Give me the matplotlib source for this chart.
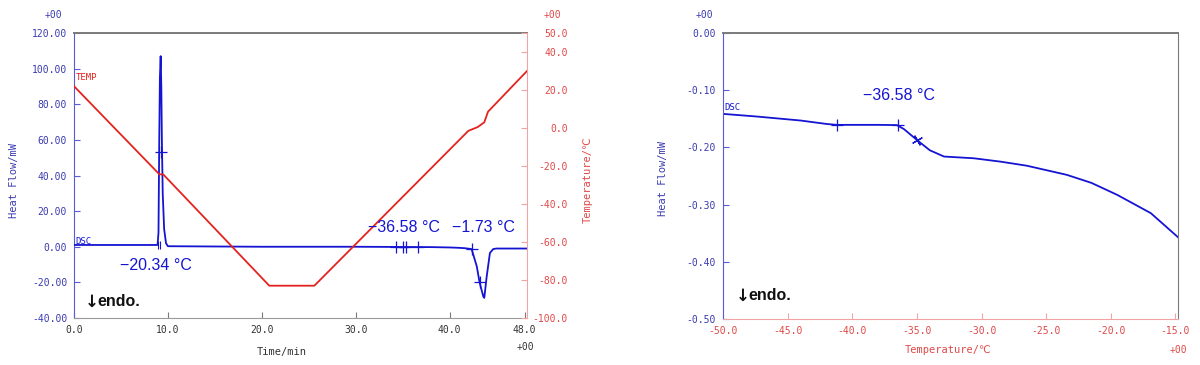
import matplotlib
matplotlib.use('Agg')
import matplotlib.pyplot as plt

# ---------------- data ----------------
# Left panel: DSC heat flow vs time
time_dsc = [0, 8.9, 9.0, 9.08, 9.15, 9.23, 9.3, 9.36, 9.45, 9.6, 9.8, 10.0, 20, 30, 38, 40, 41,
            41.6, 42.35, 42.9, 43.2, 43.6, 43.7, 43.95, 44.3, 44.65, 45, 48.25]
heat_dsc = [1.0, 1.0, 8, 60, 95, 107, 90, 60, 30, 10, 2, 0.3, 0.0, 0.0, -0.2, -0.4, -0.6,
            -0.8, -1.3, -11, -20, -28, -28.7, -17, -3.5, -1.3, -1.0, -1.0]
# Left panel: programme temperature vs time
time_temp = [0, 9.1, 9.5, 20.8, 25.6, 42.0, 43.0, 43.7, 44.1, 48.25]
temp_prog = [22, -24.4, -24.4, -83, -83, -1.5, 0.5, 3, 8.6, 30]
# analysis marks on left panel
mark_t = [9.25, 34.3, 35.0, 35.4, 36.6, 42.35, 43.2]
mark_h = [53, 0.0, 0.0, 0.0, 0.0, -1.3, -20]
dbl_t = [8.98, 9.12]
dbl_h = [0.8, 0.8]

# Right panel: DSC heat flow vs temperature (zoom on glass transition)
temp_r = [-50, -47.4, -44, -42, -41.2, -38, -36.55, -36.0, -35.0, -34.0, -32.9, -30.6,
          -28.5, -26.5, -23.4, -21.5, -19.5, -16.9, -14.8]
heat_r = [-0.1414, -0.146, -0.153, -0.159, -0.1606, -0.1606, -0.1610, -0.168, -0.187, -0.205,
          -0.216, -0.219, -0.225, -0.232, -0.248, -0.262, -0.283, -0.315, -0.357]
mark_rt = [-41.2, -36.5]
mark_rh = [-0.1606, -0.1606]
mark_rt2 = [-35.0]
mark_rh2 = [-0.187]

# ticks
x1_ticks = [0, 10, 20, 30, 40, 48]
y1_ticks = [120, 100, 80, 60, 40, 20, 0, -20, -40]
y2_ticks = [50, 40, 20, 0, -20, -40, -60, -80, -100]
x3_ticks = [-50, -45, -40, -35, -30, -25, -20, -15]
y3_ticks = [0.0, -0.1, -0.2, -0.3, -0.4, -0.5]
x1_labels = [f'{v:.1f}' for v in x1_ticks]
y1_labels = [f'{v:.2f}' for v in y1_ticks]
y2_labels = [f'{v:.1f}' for v in y2_ticks]
x3_labels = [f'{v:.1f}' for v in x3_ticks]
y3_labels = [f'{abs(v):.2f}' if v == 0 else f'{v:.2f}' for v in y3_ticks]

# ---------------- style ----------------
plt.rcParams['font.family'] = ['DejaVu Sans Mono', 'DejaVu Sans', 'Noto Sans CJK JP']
W, H = 1200, 365
fig = plt.figure(figsize=(12, 3.65), dpi=100)


def fx(x):
    return x / W


def fy(y):
    return 1 - y / H


BLUE = '#1414d2'
RED = '#e3231f'
TBLUE = '#3b3bb0'
TRED = '#e04848'
SPBLUE = '#5a5ad8'
SPRED = '#f2a4a4'
GRAY = '#7a7a7a'
TS = 7
ANN = ['Liberation Sans', 'DejaVu Sans']

# ---------------- left panel ----------------
ax1 = fig.add_axes([fx(74), fy(318), fx(527) - fx(74), fy(33) - fy(318)])
ax1.plot(time_dsc, heat_dsc, color=BLUE, lw=1.3, zorder=3)
ax1.plot(mark_t, mark_h, ls='none', marker='+', ms=9, mew=0.9, color=BLUE, zorder=4)
ax1.plot(dbl_t, dbl_h, ls='none', marker='|', ms=6, mew=0.8, color=BLUE, zorder=4)
ax1.set_xlim(0, 48.25)
ax1.set_ylim(-40, 120)
ax1.set_xticks(x1_ticks, labels=x1_labels)
ax1.set_yticks(y1_ticks, labels=y1_labels)
ax1.tick_params(axis='y', direction='in', length=4, color=SPBLUE, labelcolor=TBLUE,
                labelsize=TS, pad=5)
ax1.tick_params(axis='x', direction='in', length=4, color=GRAY, labelcolor='#333333',
                labelsize=TS, pad=5)
ax1.spines['left'].set_color(SPBLUE)
ax1.spines['bottom'].set_color('#9a9a9a')
ax1.spines['top'].set_color(GRAY)
ax1.spines['top'].set_linewidth(1.4)
ax1.spines['right'].set_visible(False)

ax2 = ax1.twinx()
ax2.plot(time_temp, temp_prog, color=RED, lw=1.3, zorder=2)
ax2.set_ylim(-100, 50)
ax2.set_yticks(y2_ticks, labels=y2_labels)
ax2.tick_params(axis='y', direction='in', length=4, color=SPRED, labelcolor=TRED,
                labelsize=TS, pad=29.5)
for lb in ax2.get_yticklabels():
    lb.set_horizontalalignment('right')
for s in ['left', 'top', 'bottom']:
    ax2.spines[s].set_visible(False)
ax2.spines['right'].set_color(SPRED)

fig.text(fx(14), fy(180), 'Heat Flow/mW', rotation=90, color=TBLUE, fontsize=7.5,
         ha='center', va='center')
fig.text(fx(588), fy(180), 'Temperature/℃', rotation=90, color=TRED, fontsize=7.5,
         ha='center', va='center')
fig.text(fx(282), fy(352), 'Time/min', color='#333333', fontsize=7.5, ha='center', va='center')
fig.text(fx(53), fy(15), '+00', color=TBLUE, fontsize=TS, ha='center', va='center')
fig.text(fx(552), fy(15), '+00', color=TRED, fontsize=TS, ha='center', va='center')
fig.text(fx(525), fy(347), '+00', color='#333333', fontsize=TS, ha='center', va='center')
fig.text(fx(76), fy(78), 'TEMP', color=RED, fontsize=6.5, ha='left', va='center')
fig.text(fx(75), fy(241), 'DSC', color=BLUE, fontsize=6.5, ha='left', va='center')

fig.text(fx(120), fy(265), '−20.34 °C', color=BLUE, fontsize=11.5, family=ANN,
         ha='left', va='center')
fig.text(fx(368), fy(227), '−36.58 °C', color=BLUE, fontsize=11.5, family=ANN,
         ha='left', va='center')
fig.text(fx(452), fy(227), '−1.73 °C', color=BLUE, fontsize=11.5, family=ANN,
         ha='left', va='center')
fig.text(fx(85), fy(302), '↓', color='#111111', fontsize=12, family=['DejaVu Sans'],
         fontweight='bold', ha='left', va='center')
fig.text(fx(97), fy(302), 'endo.', color='#111111', fontsize=11.5, family=ANN,
         fontweight='bold', ha='left', va='center')

# ---------------- right panel ----------------
ax3 = fig.add_axes([fx(723), fy(319), fx(1178) - fx(723), fy(33) - fy(319)])
ax3.plot(temp_r, heat_r, color=BLUE, lw=1.3)
ax3.plot(mark_rt, mark_rh, ls='none', marker='+', ms=9, mew=0.9, color=BLUE)
ax3.plot(mark_rt2, mark_rh2, ls='none', marker=(4, 2, 30), ms=8, mew=0.9, color=BLUE)
ax3.set_xlim(-50, -14.8)
ax3.set_ylim(-0.5, 0.0)
ax3.set_xticks(x3_ticks, labels=x3_labels)
ax3.set_yticks(y3_ticks, labels=y3_labels)
ax3.tick_params(axis='y', direction='in', length=4, color=SPBLUE, labelcolor=TBLUE,
                labelsize=TS, pad=5)
ax3.tick_params(axis='x', direction='in', length=4, color=SPRED, labelcolor=TRED,
                labelsize=TS, pad=5)
ax3.spines['left'].set_color(SPBLUE)
ax3.spines['bottom'].set_color(SPRED)
ax3.spines['top'].set_color(GRAY)
ax3.spines['top'].set_linewidth(1.4)
ax3.spines['right'].set_color(GRAY)

fig.text(fx(663), fy(178), 'Heat Flow/mW', rotation=90, color=TBLUE, fontsize=7.5,
         ha='center', va='center')
fig.text(fx(948), fy(350), 'Temperature/℃', color=TRED, fontsize=7.5, ha='center', va='center')
fig.text(fx(704), fy(15), '+00', color=TBLUE, fontsize=TS, ha='center', va='center')
fig.text(fx(1178), fy(350), '+00', color=TRED, fontsize=TS, ha='center', va='center')
fig.text(fx(724), fy(108), 'DSC', color=BLUE, fontsize=6.5, ha='left', va='center')
fig.text(fx(863), fy(95), '−36.58 °C', color=BLUE, fontsize=11.5, family=ANN,
         ha='left', va='center')
fig.text(fx(736), fy(296), '↓', color='#111111', fontsize=12, family=['DejaVu Sans'],
         fontweight='bold', ha='left', va='center')
fig.text(fx(748), fy(296), 'endo.', color='#111111', fontsize=11.5, family=ANN,
         fontweight='bold', ha='left', va='center')

fig.savefig('out.png', dpi=100)
